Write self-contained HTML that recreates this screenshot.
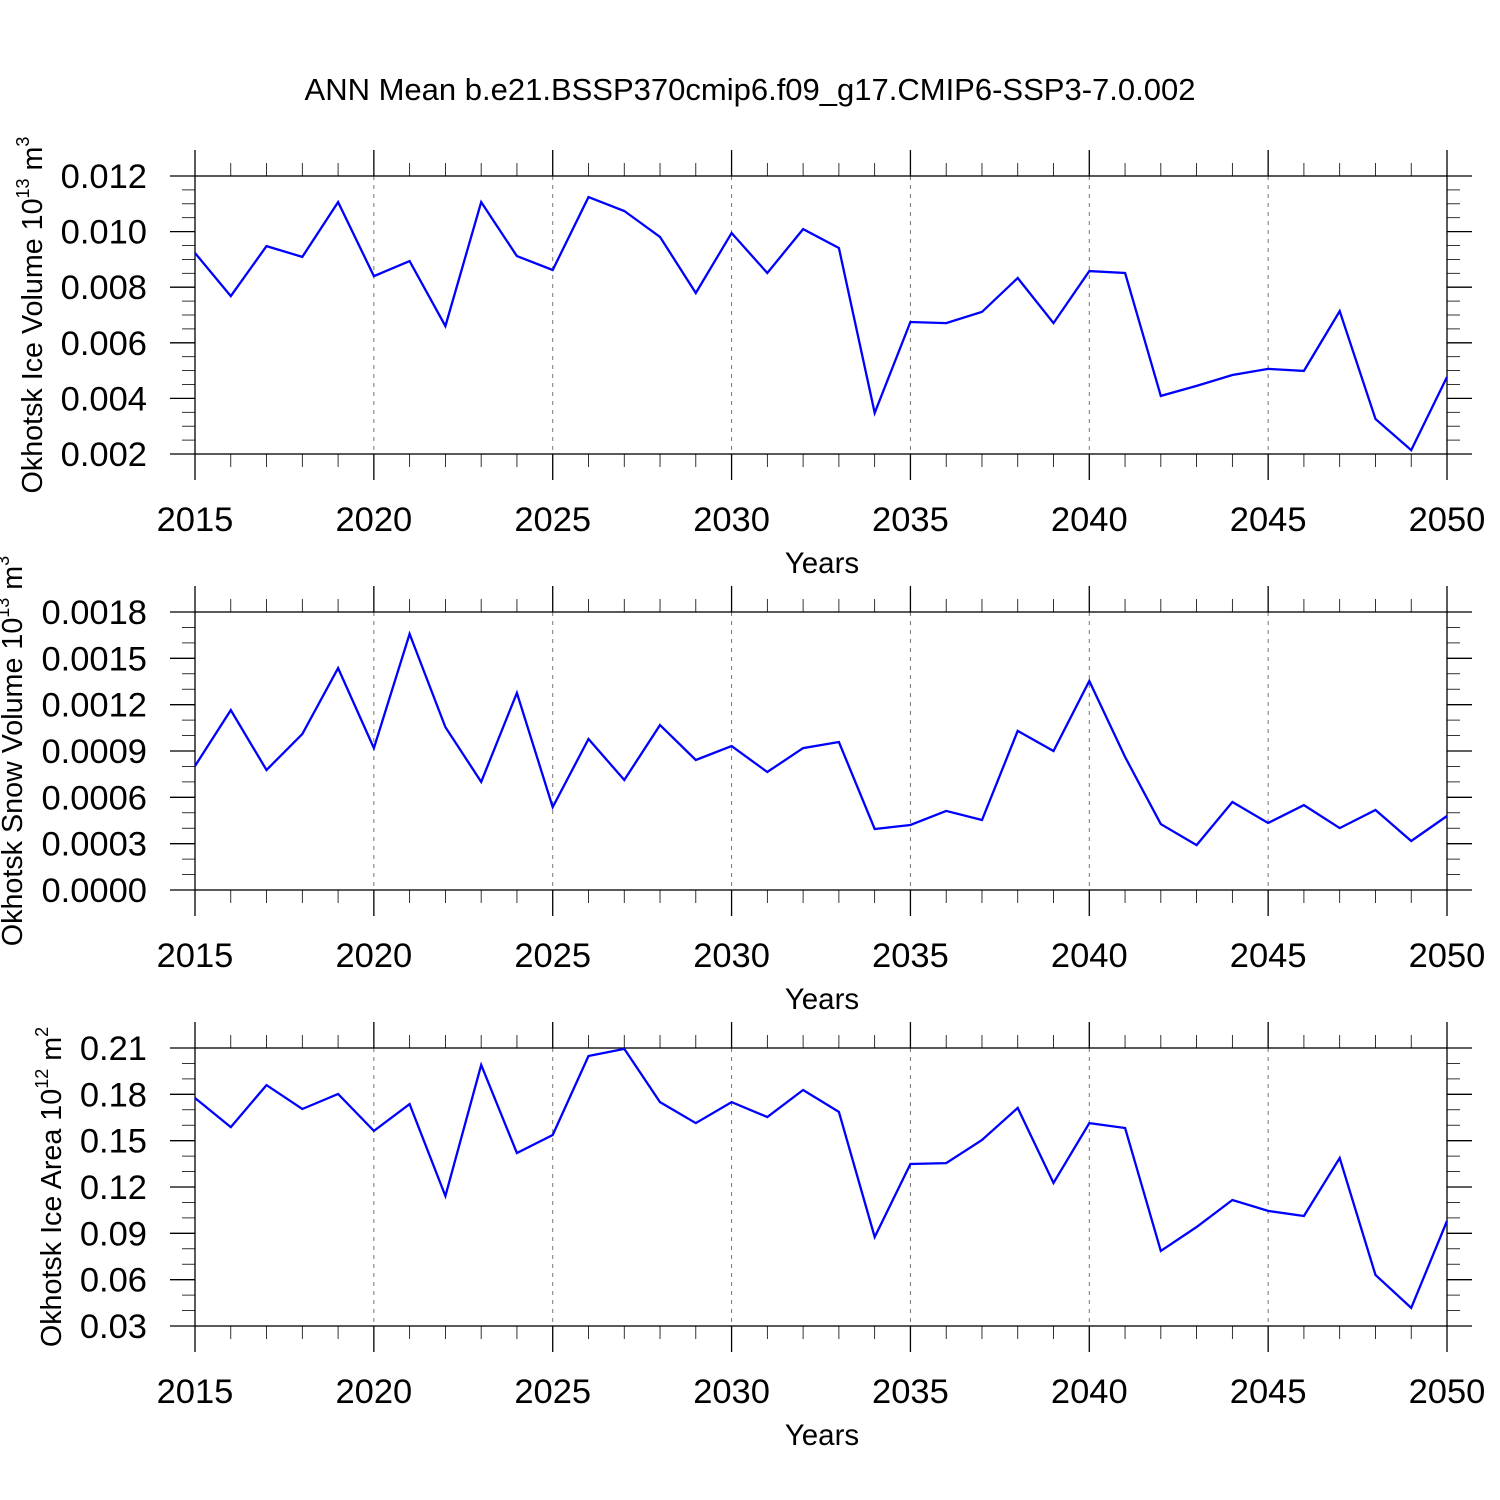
<!DOCTYPE html>
<html><head><meta charset="utf-8"><style>
html,body{margin:0;padding:0;background:#fff;}
svg{display:block;font-family:"Liberation Sans",Arial,sans-serif;}
</style></head><body>
<svg id="chart" width="1500" height="1500" viewBox="0 0 1500 1500" xmlns="http://www.w3.org/2000/svg">
<rect width="1500" height="1500" fill="#fff"/>
<text x="750" y="100" font-size="31" text-anchor="middle">ANN Mean b.e21.BSSP370cmip6.f09_g17.CMIP6-SSP3-7.0.002</text>
</svg>
<script>
const years = [];
for (let y = 2015; y <= 2050; y++) years.push(y);
const xTicks = [2015,2020,2025,2030,2035,2040,2045,2050];
const iceVolume = [0.00923,0.00768,0.00948,0.00909,0.01106,0.00840,0.00894,0.00660,0.01106,0.00912,0.00862,0.01124,0.01074,0.00981,0.00779,0.00995,0.00851,0.01009,0.00941,0.00348,0.00675,0.00671,0.00711,0.00833,0.00671,0.00858,0.00851,0.00409,0.00445,0.00484,0.00506,0.00499,0.00714,0.00326,0.00214,0.00477];
const snowVolume = [0.000803,0.001165,0.000777,0.00101,0.001437,0.000919,0.001658,0.001055,0.0007,0.001276,0.000537,0.000978,0.000712,0.001068,0.000842,0.000932,0.000764,0.000919,0.000958,0.000395,0.000421,0.000512,0.000453,0.00103,0.0009,0.001353,0.000861,0.000427,0.000291,0.00057,0.000434,0.00055,0.000401,0.000518,0.000317,0.000479];
const iceArea = [0.1776,0.1588,0.186,0.1705,0.1802,0.1563,0.1737,0.1142,0.199,0.142,0.1537,0.2048,0.2094,0.175,0.1614,0.175,0.1653,0.1828,0.1686,0.0876,0.1349,0.1355,0.1504,0.1712,0.1226,0.1614,0.1582,0.0786,0.0941,0.1116,0.1045,0.1012,0.1388,0.063,0.0417,0.098];
const iceVolTicks = ["0.002","0.004","0.006","0.008","0.010","0.012"];
const snowTicks = ["0.0000","0.0003","0.0006","0.0009","0.0012","0.0015","0.0018"];
const areaTicks = ["0.03","0.06","0.09","0.12","0.15","0.18","0.21"];

const NS = "http://www.w3.org/2000/svg";
const svg = document.getElementById('chart');
function mk(tag, attrs, parent) {
  const e = document.createElementNS(NS, tag);
  for (const k in attrs) e.setAttribute(k, attrs[k]);
  (parent || svg).appendChild(e);
  return e;
}
const X0 = 195, X1 = 1447;
function xs(yr){ return X0 + (yr - 2015) / 35 * (X1 - X0); }

function panel(name, top, values, ticks, minorDiv, titleMain, sup1, unit, sup2, titleX) {
  const bot = top + 278;
  const vmin = parseFloat(ticks[0]), vmax = parseFloat(ticks[ticks.length-1]);
  const ys = v => bot - (v - vmin) / (vmax - vmin) * 278;
  const g = mk('g', {});
  
  
  xTicks.slice(1, -1).forEach(t => {
    const l = mk('line', {x1: xs(t), x2: xs(t), y1: top, y2: bot, stroke: '#777', 'stroke-width': 1, 'stroke-dasharray': '4,5'}, g);
    
    
  });
  const fr = mk('rect', {x: X0, y: top, width: X1 - X0, height: 278, fill: 'none', stroke: '#000', 'stroke-width': 1.3}, g);
  
  
  years.forEach(yr => {
    const major = xTicks.includes(yr);
    const len = major ? 26 : 13;
    mk('line', {x1: xs(yr), x2: xs(yr), y1: top - len, y2: top, stroke: '#000', 'stroke-width': major ? 1.3 : 0.8}, g);
    mk('line', {x1: xs(yr), x2: xs(yr), y1: bot, y2: bot + len, stroke: '#000', 'stroke-width': major ? 1.3 : 0.8}, g);
  });
  xTicks.forEach(t => {
    const tx = mk('text', {x: xs(t), y: bot + 77, 'font-size': 34.5, 'text-anchor': 'middle'}, g);
    tx.textContent = t;
    
    
  });
  const n = ticks.length - 1;
  for (let i = 0; i <= n; i++) {
    const y = ys(parseFloat(ticks[i]));
    mk('line', {x1: X0 - 25, x2: X0, y1: y, y2: y, stroke: '#000', 'stroke-width': 1.3}, g);
    mk('line', {x1: X1, x2: X1 + 25, y1: y, y2: y, stroke: '#000', 'stroke-width': 1.3}, g);
    const tx = mk('text', {x: 147, y: y + 12, 'font-size': 34.5, 'text-anchor': 'end'}, g);
    tx.textContent = ticks[i];
    
    
    if (i < n) {
      const step = 278 / n / minorDiv;
      for (let j = 1; j < minorDiv; j++) {
        const my = y - j * step;
        mk('line', {x1: X0 - 13, x2: X0, y1: my, y2: my, stroke: '#000', 'stroke-width': 0.8}, g);
        mk('line', {x1: X1, x2: X1 + 13, y1: my, y2: my, stroke: '#000', 'stroke-width': 0.8}, g);
      }
    }
  }
  const pts = values.map((v, i) => xs(years[i]).toFixed(1) + ',' + ys(v).toFixed(1)).join(' ');
  const pl = mk('polyline', {points: pts, fill: 'none', stroke: '#0000ff', 'stroke-width': 2.3, 'stroke-linejoin': 'miter'}, g);
  
  
  const xt = mk('text', {x: 822, y: bot + 119, 'font-size': 29.5, 'text-anchor': 'middle'}, g);
  xt.textContent = 'Years';
  
  
  const cy = (top + bot) / 2;
  const yt = mk('text', {x: 0, y: 0, 'font-size': 28.7, 'text-anchor': 'middle', transform: 'translate(' + titleX + ',' + cy + ') rotate(-90)'}, g);
  
  
  const t1 = mk('tspan', {}, yt); t1.textContent = titleMain + ' 10';
  const t2 = mk('tspan', {'font-size': 18, dy: -13}, yt); t2.textContent = sup1;
  const t3 = mk('tspan', {dy: 13}, yt); t3.textContent = ' ' + unit;
  const t4 = mk('tspan', {'font-size': 18, dy: -13}, yt); t4.textContent = sup2;
}
panel('ice-volume', 176, iceVolume, iceVolTicks, 4, 'Okhotsk Ice Volume', '13', 'm', '3', 42);
panel('snow-volume', 612, snowVolume, snowTicks, 3, 'Okhotsk Snow Volume', '13', 'm', '3', 22);
panel('ice-area', 1048, iceArea, areaTicks, 3, 'Okhotsk Ice Area', '12', 'm', '2', 61);
</script>
</body></html>
